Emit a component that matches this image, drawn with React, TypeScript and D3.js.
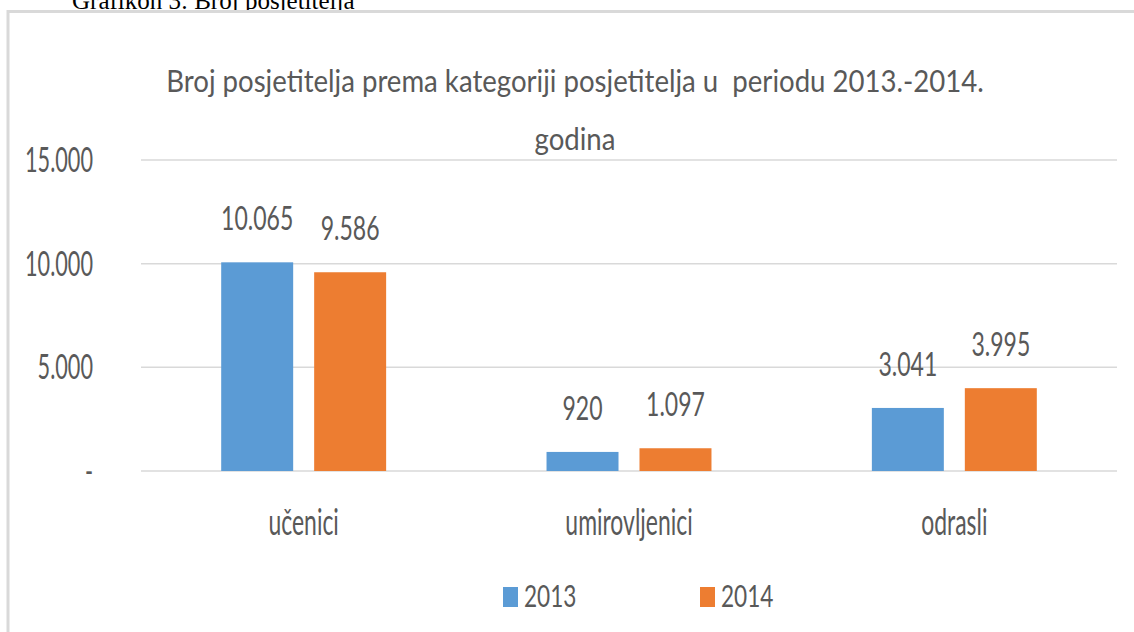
import React from "react";
import * as d3 from "d3";

const categories = ["učenici", "umirovljenici", "odrasli"];
const seriesNames = ["2013", "2014"];
const values2013 = [10065, 920, 3041];
const values2014 = [9586, 1097, 3995];
const yTicks = [0, 5000, 10000, 15000];
const titleLines = [
  "Broj posjetitelja prema kategoriji posjetitelja u  periodu 2013.-2014.",
  "godina",
];
const caption = "Grafikon 3: Broj posjetitelja";
const colors = ["#5B9BD5", "#ED7D31"];

const W = 1134;
const H = 632;
const FONT = "Lato, 'Open Sans', sans-serif";
const TEXT = "#595959";

const locale = d3.formatLocale({
  decimal: ",",
  thousands: ".",
  grouping: [3],
  currency: ["", " €"],
});
const fmt = (v: number) => (v === 0 ? "-" : locale.format(",d")(v));

function Txt(props: {
  x: number;
  y: number;
  fs: number;
  sx: number;
  anchor?: string;
  fill?: string;
  family?: string;
  children: React.ReactNode;
}) {
  const { x, y, fs, sx, anchor = "middle", fill = TEXT, family = FONT } = props;
  return (
    <text
      transform={`translate(${x},${y}) scale(${sx},1)`}
      fontSize={fs}
      fontFamily={family}
      textAnchor={anchor}
      fill={fill}
      style={{ whiteSpace: "pre" }}
    >
      {props.children}
    </text>
  );
}

export default function App() {
  const plotLeft = 141;
  const plotRight = 1117;
  const y = d3.scaleLinear().domain([0, 15000]).range([471, 160]);
  const x0 = d3
    .scaleBand<string>()
    .domain(categories)
    .range([plotLeft, plotRight])
    .paddingInner(0.493)
    .paddingOuter(0.2465);
  const x1 = d3
    .scaleBand<string>()
    .domain(seriesNames)
    .range([0, x0.bandwidth()])
    .paddingInner(0.2258)
    .paddingOuter(0);
  const series = [values2013, values2014];
  const titleX = 575;

  return (
    <svg
      width={W}
      height={H}
      style={{ position: "absolute", left: 0, top: 0, background: "#fff" }}
    >
      <rect x={0} y={0} width={W} height={H} fill="#fff" />
      {/* caption above the chart (cut off, as in the source) */}
      <text
        x={72}
        y={9}
        fontSize={25}
        fontFamily="'Liberation Serif', 'DejaVu Serif', serif"
        fill="#000"
      >
        {caption}
      </text>
      {/* chart border */}
      <rect
        x={8}
        y={11.5}
        width={1300}
        height={800}
        fill="#fff"
        stroke="#d9d9d9"
        strokeWidth={3}
      />
      {/* title */}
      {titleLines.map((t, i) => (
        <Txt key={t} x={titleX} y={92 + i * 58} fs={31} sx={0.89}>
          {t}
        </Txt>
      ))}
      {/* gridlines & y ticks */}
      {yTicks.map((t) => (
        <g key={t}>
          <line
            x1={plotLeft}
            x2={plotRight}
            y1={y(t)}
            y2={y(t)}
            stroke="#d9d9d9"
            strokeWidth={1.5}
          />
          <Txt x={93} y={y(t) + 12} fs={35} sx={0.62} anchor="end">
            {fmt(t)}
          </Txt>
        </g>
      ))}
      {/* bars */}
      {categories.map((c, ci) => (
        <g key={c}>
          {seriesNames.map((s, si) => {
            const v = series[si][ci];
            const bx = (x0(c) as number) + (x1(s) as number);
            const bw = x1.bandwidth();
            return (
              <g key={s}>
                <rect
                  x={bx}
                  y={y(v)}
                  width={bw}
                  height={y(0) - y(v)}
                  fill={colors[si]}
                />
                <Txt x={bx + bw / 2} y={y(v) - 32} fs={32} sx={0.72}>
                  {fmt(v)}
                </Txt>
              </g>
            );
          })}
          <Txt
            x={(x0(c) as number) + x0.bandwidth() / 2}
            y={535}
            fs={37}
            sx={0.62}
          >
            {c}
          </Txt>
        </g>
      ))}
      {/* legend */}
      {seriesNames.map((s, i) => {
        const lx = 503 + i * 197;
        return (
          <g key={s}>
            <rect x={lx} y={587} width={15} height={20} fill={colors[i]} />
            <Txt x={lx + 21} y={606.5} fs={31} sx={0.73} anchor="start">
              {s}
            </Txt>
          </g>
        );
      })}
    </svg>
  );
}
